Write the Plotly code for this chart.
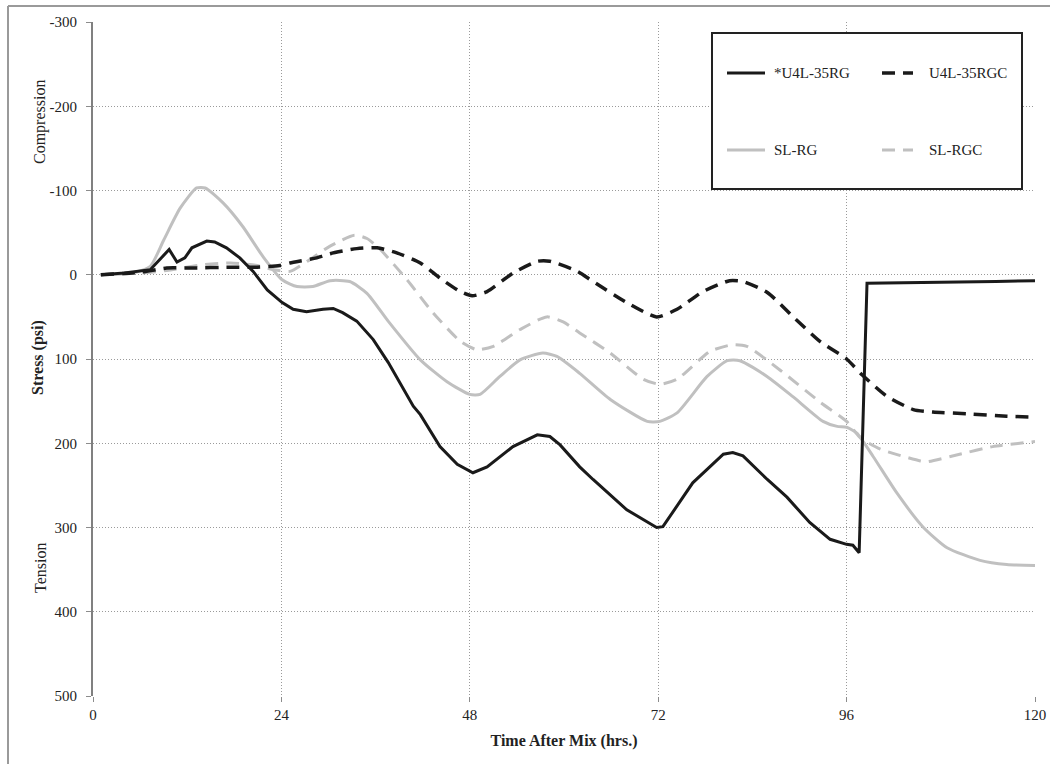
import plotly.graph_objects as go

# ---------------- data ----------------
x_u4l_rg = [1, 4, 7.3, 8.5, 9.7, 10.7, 11.7, 12.6, 14.5, 15.5, 17, 18.7, 20.4, 22.2, 24.1, 25.5, 27.2, 29.3,
            30.6, 31.8, 33.6, 35.7, 37.6, 40.8, 41.7, 44.2, 46.4, 48.4, 50.2, 53.5, 56.6, 58.2, 59.5, 62, 63.7,
            68, 71.8, 72.6, 76.4, 80.3, 81.5, 82.8, 85.9, 88.4, 91.3, 93.9, 96, 96.8, 97.6, 98.6, 105, 110, 115, 120]
y_u4l_rg = [0, -2, -6, -18, -30, -15, -20, -32, -40, -39, -32, -20, -4, 18, 33, 41, 44, 41,
            40, 45, 55, 77, 104, 156, 166, 204, 225, 235, 228, 204, 190, 192, 202, 228, 243,
            279, 300, 299, 247, 213, 211, 215, 243, 264, 294, 314, 320, 321, 330, 10, 9.5, 9, 8, 7]

x_u4l_rgc = [1, 6, 9.4, 12.4, 17.5, 20.9, 23.8, 25.1, 28.5, 30.2, 33.6, 36.2, 38.7, 41.7, 44.2, 46.8, 48.3,
             50.2, 53.5, 56.6, 58.2, 61.7, 63.7, 68, 71.8, 74.4, 77.7, 81.1, 82.8, 85.9, 89.2, 92.6, 96, 98,
             101.1, 104.5, 107, 111.3, 116.4, 120]
y_u4l_rgc = [0, -3, -8, -8, -9, -9, -11, -14, -20, -25, -31, -32, -26, -14, 4, 20, 25,
             20, -2, -16, -16, -4, 8, 33, 50, 41, 20, 7, 8, 21, 50, 79, 100, 119,
             144, 160, 163, 165, 168, 169]

x_sl_rg = [1, 5, 7.3, 9, 11.1, 13.2, 14.3, 16.6, 19.1, 21.7, 24.1, 26, 28, 30.2, 32.7, 34.9, 37.6, 41.7,
           45.1, 48, 49.3, 51.8, 54.4, 57.3, 59.1, 62, 65.9, 70.6, 72.2, 74.4, 78.2, 80.8, 82.4, 85.9, 89.2,
           93, 94.8, 96, 97.3, 99.4, 102.4, 105.7, 108.8, 113, 116.4, 120]
y_sl_rg = [0, -2, -10, -41, -79, -103, -103, -85, -57, -21, 6, 14, 14, 7, 8, 22, 55, 101,
           127, 142, 142, 121, 101, 93, 97, 117, 148, 174, 174, 164, 121, 102, 102, 121, 145,
           174, 180, 181, 188, 216, 259, 299, 324, 339, 344, 345]

x_sl_rgc = [1, 6, 9.4, 14, 17.5, 20.9, 23, 25.1, 27.3, 30.2, 33.3, 34.9, 36.6, 40, 43.3, 46.8, 48.9, 51,
            54.4, 57.8, 59.9, 62, 65.9, 70.1, 72.2, 74.4, 78.6, 81.5, 83.3, 87.5, 92.6, 96, 97.7, 100.3,
            105.4, 106.2, 110.4, 114.6, 120]
y_sl_rgc = [0, -2, -5, -12, -14, -11, -6, -4, -16, -34, -47, -43, -30, 6, 45, 79, 89, 85,
            65, 50, 56, 69, 93, 124, 130, 124, 91, 83, 85, 113, 151, 174, 193, 207,
            221, 222, 213, 204, 198]

series_names = ["*U4L-35RG", "U4L-35RGC", "SL-RG", "SL-RGC"]
x_ticks = [0, 24, 48, 72, 96, 120]
y_ticks = [-300, -200, -100, 0, 100, 200, 300, 400, 500]
y_tick_labels = ["-300", "-200", "-100", "0", "100", "200", "300", "400", "500"]

# ---------------- styling / layout ----------------
W, H = 1050, 764
L, R, T, B = 93, 1035, 22, 696
FONT = "Liberation Serif, Times New Roman, serif"
BLACK = "#1a1a1a"
GRAY = "#c0c0c0"
DASH = "13px,8px"


def px(xp):
    return (xp - L) / (R - L)


def py(yp):
    return (B - yp) / (B - T)


styles = [
    dict(color=BLACK, width=3, dash="solid"),
    dict(color=BLACK, width=3.5, dash=DASH),
    dict(color=GRAY, width=3, dash="solid"),
    dict(color=GRAY, width=3, dash=DASH),
]
shapes_kind = ["linear", "spline", "spline", "spline"]
data = [(x_u4l_rg, y_u4l_rg), (x_u4l_rgc, y_u4l_rgc), (x_sl_rg, y_sl_rg), (x_sl_rgc, y_sl_rgc)]

fig = go.Figure()
# draw gray first so black lines sit on top
for i in [2, 3, 1, 0]:
    xs, ys = data[i]
    line = dict(styles[i])
    line["shape"] = shapes_kind[i]
    if shapes_kind[i] == "spline":
        line["smoothing"] = 0.6
    fig.add_trace(go.Scatter(x=xs, y=ys, mode="lines", name=series_names[i],
                             line=line, showlegend=False, hoverinfo="skip"))

shapes = []
annotations = []

# outer frame (top & left)
shapes.append(dict(type="line", xref="paper", yref="paper", x0=px(8), x1=px(1052), y0=py(6), y1=py(6),
                   line=dict(color="#9a9a9a", width=2)))
shapes.append(dict(type="line", xref="paper", yref="paper", x0=px(8), x1=px(8), y0=py(6), y1=py(766),
                   line=dict(color="#9a9a9a", width=2)))

# legend box
shapes.append(dict(type="rect", xref="paper", yref="paper", x0=px(712), x1=px(1022), y0=py(189), y1=py(33),
                   line=dict(color="#222222", width=2), fillcolor="white", layer="above"))
rows = [73, 150]
leg = [(0, 0, 727, 765, 772), (1, 0, 882, 913, 927), (2, 1, 727, 765, 772), (3, 1, 882, 913, 927)]
for idx, row, s0, s1, tx in leg:
    st = styles[idx]
    shapes.append(dict(type="line", xref="paper", yref="paper", x0=px(s0), x1=px(s1),
                       y0=py(rows[row]), y1=py(rows[row]), layer="above",
                       line=dict(color=st["color"], width=st["width"], dash=st["dash"])))
    annotations.append(dict(xref="paper", yref="paper", x=px(tx), y=py(rows[row]), text=series_names[idx],
                            showarrow=False, xanchor="left", yanchor="middle",
                            font=dict(family=FONT, size=15, color="#222222")))

# side labels
annotations.append(dict(xref="paper", yref="paper", x=px(40), y=py(122), text="Compression", textangle=-90,
                        showarrow=False, xanchor="center", yanchor="middle",
                        font=dict(family=FONT, size=16, color="#222222")))
annotations.append(dict(xref="paper", yref="paper", x=px(40), y=py(568), text="Tension", textangle=-90,
                        showarrow=False, xanchor="center", yanchor="middle",
                        font=dict(family=FONT, size=16, color="#222222")))
annotations.append(dict(xref="paper", yref="paper", x=px(38), y=py(358), text="<b>Stress (psi)</b>",
                        textangle=-90, showarrow=False, xanchor="center", yanchor="middle",
                        font=dict(family=FONT, size=16, color="#222222")))

fig.update_layout(
    width=W, height=H, autosize=False,
    margin=dict(l=L, r=W - R, t=T, b=H - B, autoexpand=False),
    paper_bgcolor="white", plot_bgcolor="white",
    font=dict(family=FONT, size=15, color="#222222"),
    shapes=shapes, annotations=annotations,
    showlegend=False,
)
GRID = dict(showgrid=True, gridcolor="#9a9a9a", griddash="1px,2px", gridwidth=1)
fig.update_xaxes(
    range=[0, 120], tickvals=x_ticks, ticktext=[str(v) for v in x_ticks],
    automargin=False, **GRID,
    zeroline=False, showline=False,
    ticks="outside", ticklen=5, tickcolor="#8c8c8c", tickwidth=1,
    tickfont=dict(family=FONT, size=15, color="#222222"),
    title=dict(text="<b>Time After Mix (hrs.)</b>", font=dict(family=FONT, size=16, color="#222222"),
               standoff=12),
)
fig.update_yaxes(
    range=[500, -300], tickvals=y_ticks, ticktext=y_tick_labels,
    automargin=False, **GRID,
    zeroline=False, showline=True, linecolor="#808080", linewidth=2,
    ticks="outside", ticklen=5, tickcolor="#8c8c8c", tickwidth=1,
    ticklabelstandoff=6,
    tickfont=dict(family=FONT, size=15, color="#222222"),
)

fig.write_html("out.html")
